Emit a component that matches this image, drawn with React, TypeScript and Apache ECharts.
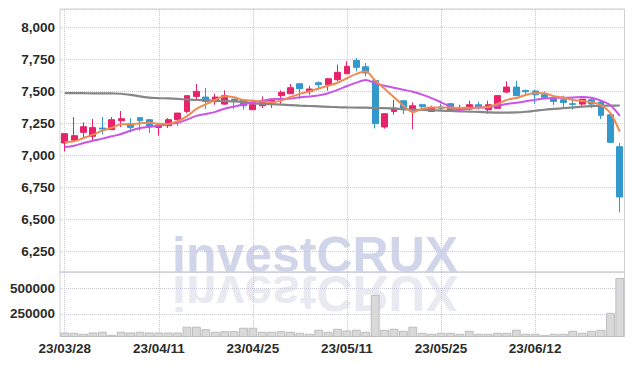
import React, { useEffect, useRef } from "react";
import * as echarts from "echarts";

const dates = [
  "23/03/28","23/03/29","23/03/30","23/03/31","23/04/03","23/04/04","23/04/05","23/04/06","23/04/07","23/04/10",
  "23/04/11","23/04/12","23/04/13","23/04/14","23/04/17","23/04/18","23/04/19","23/04/20","23/04/21","23/04/24",
  "23/04/25","23/04/26","23/04/27","23/04/28","23/05/02","23/05/03","23/05/04","23/05/08","23/05/09","23/05/10",
  "23/05/11","23/05/12","23/05/15","23/05/16","23/05/17","23/05/18","23/05/19","23/05/22","23/05/23","23/05/24",
  "23/05/25","23/05/26","23/05/30","23/05/31","23/06/01","23/06/02","23/06/05","23/06/07","23/06/08","23/06/09",
  "23/06/12","23/06/13","23/06/14","23/06/15","23/06/16","23/06/19","23/06/20","23/06/21","23/06/22","23/06/23",
];

const openP = [
  7094,7115,7177,7146,7211,7198,7268,7245,7292,7276,
  7216,7229,7276,7341,7458,7453,7419,7398,7437,7427,
  7354,7385,7411,7464,7479,7557,7495,7565,7549,7589,
  7635,7740,7690,7581,7219,7341,7424,7354,7393,7341,
  7375,7401,7354,7359,7393,7354,7365,7492,7531,7505,
  7500,7471,7451,7432,7401,7398,7432,7414,7315,7065,
];
const closeP = [
  7167,7151,7221,7214,7203,7276,7284,7216,7268,7219,
  7234,7276,7328,7464,7497,7419,7453,7464,7427,7385,
  7393,7419,7437,7490,7526,7518,7516,7549,7596,7646,
  7693,7685,7641,7245,7323,7367,7354,7385,7380,7372,
  7364,7349,7372,7393,7375,7393,7464,7531,7464,7495,
  7471,7451,7419,7411,7396,7437,7398,7310,7099,6672,
];
const lowP = [
  7029,7115,7141,7115,7161,7198,7219,7177,7190,7172,
  7151,7211,7229,7328,7432,7359,7393,7393,7359,7354,
  7354,7367,7367,7401,7479,7437,7471,7505,7503,7576,
  7635,7654,7615,7208,7206,7315,7320,7203,7367,7341,
  7349,7341,7349,7349,7354,7323,7365,7484,7464,7471,
  7401,7438,7390,7367,7354,7385,7367,7281,7094,6552,
];
const highP = [
  7167,7297,7255,7281,7297,7297,7344,7287,7292,7276,
  7250,7289,7328,7464,7555,7523,7479,7505,7437,7427,
  7432,7458,7437,7505,7555,7557,7542,7576,7602,7706,
  7732,7758,7719,7594,7328,7432,7424,7411,7401,7385,
  7401,7401,7393,7424,7417,7424,7464,7576,7581,7510,
  7510,7497,7464,7464,7445,7437,7445,7427,7315,7094,
];
const ma5 = [
  7102,7107,7133,7159,7191,7213,7240,7239,7249,7253,
  7244,7243,7265,7304,7360,7397,7432,7459,7452,7430,
  7424,7418,7412,7425,7453,7478,7497,7520,7541,7565,
  7600,7634,7652,7582,7517,7452,7386,7335,7362,7372,
  7371,7370,7367,7370,7371,7376,7399,7431,7445,7469,
  7485,7482,7460,7449,7430,7423,7412,7390,7328,7183,
];
const ma10 = [
  7062,7073,7094,7112,7128,7146,7164,7190,7211,7222,
  7229,7241,7252,7277,7306,7321,7337,7362,7378,7395,
  7411,7425,7436,7438,7441,7451,7458,7466,7483,7509,
  7539,7566,7586,7562,7541,7526,7510,7494,7472,7445,
  7412,7378,7351,7366,7371,7374,7385,7399,7408,7420,
  7431,7441,7446,7447,7450,7454,7447,7425,7389,7306,
];
const ma60 = [
  7484,7484,7483,7482,7482,7481,7479,7470,7458,7448,
  7445,7442,7438,7434,7430,7428,7425,7422,7419,7414,
  7405,7400,7397,7394,7390,7386,7383,7380,7377,7374,
  7372,7371,7370,7368,7366,7363,7358,7355,7352,7350,
  7347,7344,7341,7339,7337,7334,7332,7332,7333,7338,
  7346,7354,7360,7366,7372,7378,7382,7385,7386,7387,
];
const volume = [
  65000,62000,52000,65000,72000,42000,72000,65000,72000,65000,
  65000,65000,65000,122000,122000,97000,72000,78000,78000,112000,
  112000,72000,72000,78000,72000,62000,52000,92000,72000,102000,
  85000,92000,72000,438000,92000,102000,82000,122000,62000,52000,
  62000,62000,52000,82000,52000,52000,62000,62000,92000,52000,
  52000,39000,52000,52000,82000,62000,82000,92000,260000,606000,
];

const UP = "#e8226a";
const DOWN = "#3399cc";
const FONT = '"Liberation Sans", Arial, sans-serif';
const gridLine = { show: true, lineStyle: { color: "#c9c9d6", type: "dotted" as const, width: 1 } };

export default function App() {
  const ref = useRef<HTMLDivElement>(null);
  useEffect(() => {
    if (!ref.current) return;
    const chart = echarts.init(ref.current, null, { renderer: "svg" });
    const candles = openP.map((o, i) => [o, closeP[i], lowP[i], highP[i]]);
    const labelStyle = { fontFamily: FONT, fontSize: 13.5, fontWeight: "bold" as const, color: "#2b2b2b" };
    chart.setOption({
      animation: false,
      backgroundColor: "#fff",
      grid: [
        { left: 60, right: 9.5, top: 9, height: 263, show: true, borderColor: "#d0d0d0", borderWidth: 1 },
        { left: 60, right: 9.5, top: 272, height: 64.5, show: true, borderColor: "#d0d0d0", borderWidth: 1 },
      ],
      graphic: [
        {
          type: "text", x: 172, y: 254.7, z: -1, silent: true,
          style: { text: "investCRUX", font: 'bold 50px "Liberation Sans"', fill: "#d0d5e9", verticalAlign: "middle" },
        },
        {
          type: "text", x: 172, y: 293.3, scaleY: -1, z: -1, silent: true,
          style: { text: "investCRUX", font: 'bold 50px "Liberation Sans"', fill: "#e8e9f1", verticalAlign: "middle" },
        },
      ],
      xAxis: [
        {
          type: "category", gridIndex: 0, data: dates, boundaryGap: true,
          axisLine: { show: false }, axisTick: { show: false }, axisLabel: { show: false },
          splitLine: { ...gridLine, interval: 9, alignWithLabel: true },
        },
        {
          type: "category", gridIndex: 1, data: dates, boundaryGap: true,
          axisLine: { show: false }, axisTick: { show: false },
          axisLabel: { ...labelStyle, interval: 9, margin: 5 },
          splitLine: { ...gridLine, interval: 9, alignWithLabel: true },
        },
      ],
      yAxis: [
        {
          type: "value", gridIndex: 0, min: 6086, max: 8141, minInterval: 250, maxInterval: 250,
          axisLine: { show: false }, axisTick: { show: false },
          axisLabel: {
            ...labelStyle, margin: 5, showMinLabel: false, showMaxLabel: false,
            formatter: (v: number) => v.toLocaleString("en-US"),
          },
          splitLine: gridLine,
        },
        {
          type: "value", gridIndex: 1, min: 25000, max: 665000, minInterval: 250000, maxInterval: 250000,
          axisLine: { show: false }, axisTick: { show: false },
          axisLabel: {
            ...labelStyle, margin: 5, showMinLabel: false, showMaxLabel: false,
            formatter: (v: number) => String(v),
          },
          splitLine: gridLine,
        },
      ],
      series: [
        {
          type: "candlestick", xAxisIndex: 0, yAxisIndex: 0, data: candles, barWidth: "68%",
          itemStyle: { color: UP, color0: DOWN, borderColor: UP, borderColor0: DOWN, borderWidth: 1 },
        },
        {
          type: "line", xAxisIndex: 0, yAxisIndex: 0, data: ma60, symbol: "none", smooth: 0.3,
          lineStyle: { color: "#868686", width: 2.2 },
        },
        {
          type: "line", xAxisIndex: 0, yAxisIndex: 0, data: ma10, symbol: "none", smooth: 0.3,
          lineStyle: { color: "#c955e8", width: 2 },
        },
        {
          type: "line", xAxisIndex: 0, yAxisIndex: 0, data: ma5, symbol: "none", smooth: 0.3,
          lineStyle: { color: "#ee8a52", width: 2 },
        },
        {
          type: "bar", xAxisIndex: 1, yAxisIndex: 1, data: volume, barCategoryGap: "6%",
          itemStyle: { color: "#d9d9d9", borderColor: "#bdbdbd", borderWidth: 1 },
        },
      ],
    });
    return () => chart.dispose();
  }, []);
  return <div ref={ref} style={{ width: 634, height: 366, position: "absolute", left: 0, top: 0 }} />;
}
